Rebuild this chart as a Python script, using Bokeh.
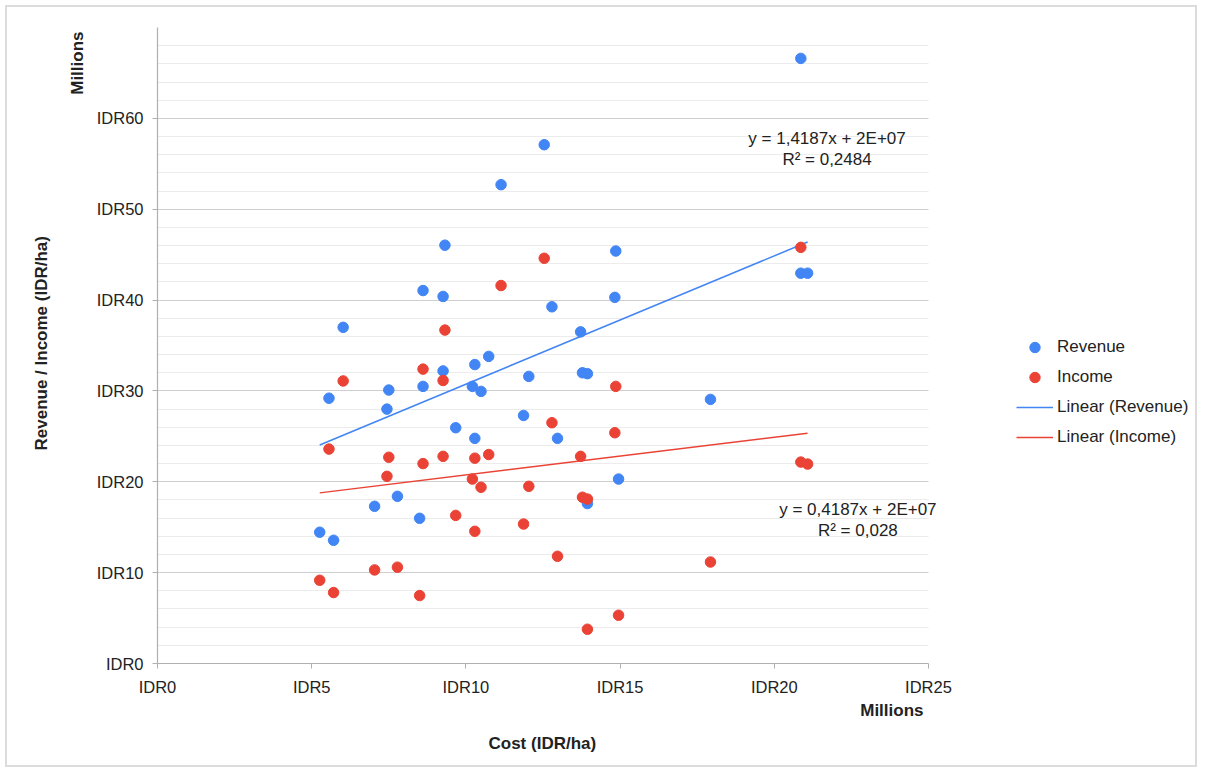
import numpy as np
from bokeh.plotting import figure
from bokeh.models import (Range1d, FixedTicker, PrintfTickFormatter, Label, Legend,
                          LegendItem, Title)
from bokeh.embed import file_html
from bokeh.resources import INLINE

# Values in millions of IDR per ha
cost = [5.26, 5.71, 5.56, 6.02, 7.44, 7.50, 7.04, 7.78, 8.50, 8.61, 8.61, 9.26, 9.26,
        9.32, 9.67, 10.29, 10.29, 10.21, 10.49, 10.74, 11.14, 12.54, 12.04, 12.79,
        11.87, 12.97, 13.72, 13.78, 13.94, 13.94, 14.86, 14.83, 14.95, 17.93, 20.86,
        20.86, 21.08]
revenue = [14.45, 13.56, 29.2, 37.0, 28.0, 30.1, 17.3, 18.4, 15.98, 30.5, 41.05, 40.4,
           32.2, 46.04, 25.95, 24.78, 32.9, 30.5, 29.95, 33.8, 52.7, 57.1, 31.6, 39.26,
           27.3, 24.78, 36.5, 32.0, 31.9, 17.6, 45.4, 40.3, 20.3, 29.07, 66.6, 42.96,
           42.96]
income = [9.16, 7.81, 23.6, 31.1, 20.6, 22.7, 10.3, 10.6, 7.48, 22.0, 32.4, 31.15, 22.8,
          36.7, 16.3, 14.55, 22.6, 20.3, 19.4, 23.0, 41.6, 44.6, 19.5, 26.5, 15.35, 11.8,
          22.8, 18.3, 18.1, 3.77, 30.5, 25.4, 5.31, 11.17, 45.8, 22.17, 21.95]

x_ticks = [0, 5, 10, 15, 20, 25]
y_ticks = [0, 10, 20, 30, 40, 50, 60]
eq_revenue = ["y = 1,4187x + 2E+07", "R² = 0,2484"]
eq_income = ["y = 0,4187x + 2E+07", "R² = 0,028"]

BLUE = "#4285F4"
RED = "#EA4335"
FONT = "Liberation Sans"
TXT = "#222222"

# plot area runs to the right edge so the legend can sit inside it;
# axis and grid are bounded to the 0..25 cost range
X_MAX = 25
X_VIEW = X_MAX * (1192 - 150) / 771.0

p = figure(width=1192, height=762, output_backend="svg", toolbar_location=None,
           x_range=Range1d(0, X_VIEW), y_range=Range1d(0, 70),
           min_border_left=150, min_border_right=0, min_border_top=20,
           min_border_bottom=106)
p.styles = {"margin": "5px", "border": "2px solid #dcdcdc"}
p.outline_line_color = None
p.background_fill_color = "white"
p.border_fill_color = "white"

# grid
p.xgrid.visible = False
p.ygrid.ticker = FixedTicker(ticks=[10, 20, 30, 40, 50, 60],
                             minor_ticks=[v for v in range(2, 70, 2) if v % 10 != 0])
p.ygrid.cross_bounds = (0, X_MAX)
p.ygrid.grid_line_color = "#cfcfcf"
p.ygrid.grid_line_width = 1
p.ygrid.minor_grid_line_color = "#ececec"
p.ygrid.minor_grid_line_width = 1

for ax, ticks in ((p.xaxis[0], x_ticks), (p.yaxis[0], y_ticks)):
    ax.ticker = FixedTicker(ticks=ticks)
    ax.formatter = PrintfTickFormatter(format="IDR%d")
    ax.axis_line_color = "#b0b0b0"
    ax.axis_line_width = 1.2
    ax.major_tick_line_color = "#b0b0b0"
    ax.major_tick_out = 5
    ax.major_tick_in = 0
    ax.minor_tick_out = 0
    ax.minor_tick_in = 0
    ax.major_label_text_font = FONT
    ax.major_label_text_font_size = "16.5px"
    ax.major_label_text_color = TXT
    ax.major_label_standoff = 9
p.xaxis[0].bounds = (0, X_MAX)

# trendlines (least squares from the data)
cx = np.array(cost)
xs = [cx.min(), cx.max()]
kr = np.polyfit(cx, np.array(revenue), 1)
ki = np.polyfit(cx, np.array(income), 1)
lr = p.line(xs, list(np.polyval(kr, xs)), line_color=BLUE, line_width=1.5)
li = p.line(xs, list(np.polyval(ki, xs)), line_color=RED, line_width=1.5)

sr = p.scatter(cost, revenue, size=10.5, fill_color=BLUE, line_color=BLUE)
si = p.scatter(cost, income, size=10.5, fill_color=RED, line_color=RED)

legend = Legend(items=[LegendItem(label="Revenue", renderers=[sr]),
                       LegendItem(label="Income", renderers=[si]),
                       LegendItem(label="Linear (Revenue)", renderers=[lr]),
                       LegendItem(label="Linear (Income)", renderers=[li])],
                location=(859, 213.3), padding=0, margin=0, spacing=4,
                glyph_width=37, glyph_height=26, label_height=26, label_standoff=4,
                label_text_font=FONT, label_text_font_size="17px",
                label_text_color=TXT, border_line_color=None,
                background_fill_alpha=0)
p.add_layout(legend)

def lab(x, y, text):
    p.add_layout(Label(x=x, y=y, text=text, text_font=FONT, text_font_size="17px",
                       text_color=TXT, text_align="center", text_baseline="middle"))

# regression equations
lab(21.71, 57.77, eq_revenue[0])
lab(21.71, 55.5, eq_revenue[1])
lab(22.71, 16.94, eq_income[0])
lab(22.71, 14.66, eq_income[1])

def title(text, side, align, offset=0, standoff=10):
    p.add_layout(Title(text=text, align=align, offset=offset, standoff=standoff,
                       text_font=FONT, text_font_size="17px", text_font_style="bold",
                       text_color=TXT), side)

# axis titles (stacked outward from the plot area)
title("Millions", "left", "right", offset=4, standoff=13)
title("Revenue / Income (IDR/ha)", "left", "left", offset=213, standoff=18)
title("Millions", "below", "right", offset=276, standoff=0)
title("Cost (IDR/ha)", "below", "left", offset=331, standoff=24)

open("out.html", "w").write(file_html(p, INLINE))
